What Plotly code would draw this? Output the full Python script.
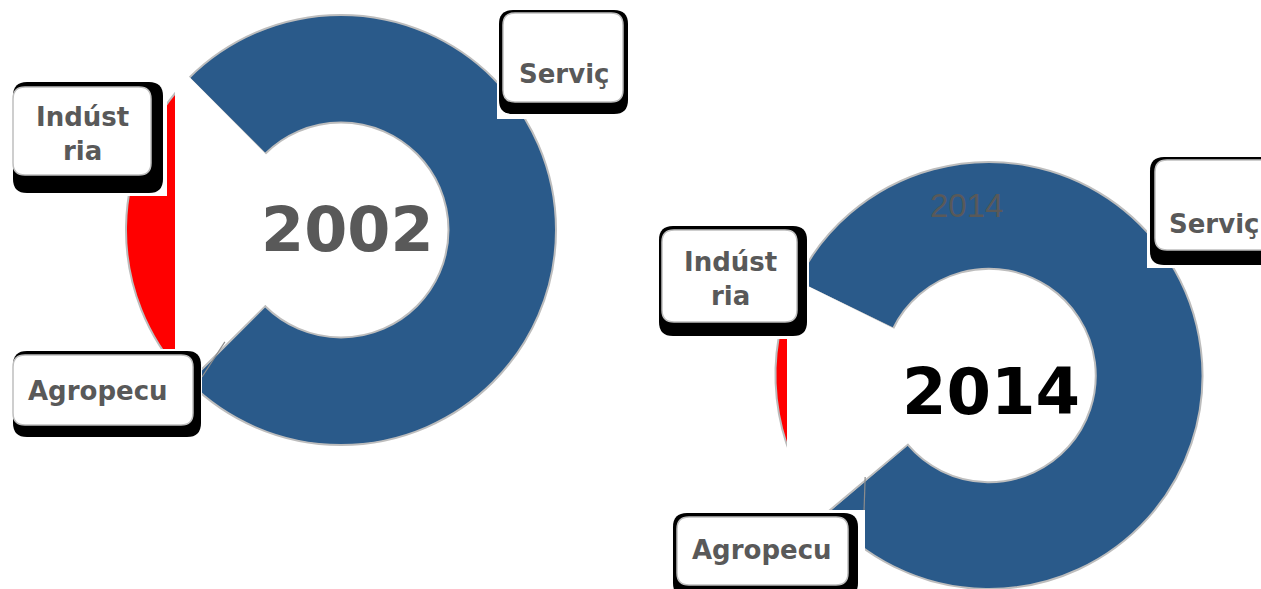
import math
import plotly.graph_objects as go

W, H = 1261, 589

# ---------------- data ----------------
categories = ["Serviços", "Agropecuária", "Indústria"]
years = ["2002", "2014"]
values_2002 = [75.0, 0.6, 24.4]
values_2014 = [81.6, 0.5, 17.9]
slice_colors = ["#2A5A8A", "#E6E6E6", "#FF0000"]
box_text = {"Serviços": "Serviç", "Agropecuária": "Agropecu", "Indústria": "Indúst<br>ria"}

# ---------------- layout (pixels) ----------------
charts = [
    dict(year="2002", values=values_2002, rotation=-45,
         domain_px=(126, 15, 556, 445), cut=175,
         center=dict(x=347, y=229, size=62, color="#595959"),
         top_text=None,
         leader_end=(202, 377),
         boxes={
             "Indústria": dict(box=(13, 87, 151, 175), shadow=(13, 82, 163, 193),
                               clip=(0, 78, 167, 196), text=(82, 134)),
             "Serviços": dict(box=(503, 13, 623, 102), shadow=(499, 10, 628, 114),
                              clip=(497, 4, 632, 119), text=(564, 74)),
             "Agropecuária": dict(box=(13, 355, 193, 425), shadow=(13, 351, 201, 437),
                                  clip=(0, 349, 202, 443), text=(98, 391)),
         }),
    dict(year="2014", values=values_2014, rotation=-64,
         domain_px=(775.5, 162, 1202.5, 589), cut=787,
         center=dict(x=991, y=392, size=64, color="#000000"),
         top_text=dict(x=966, y=205, size=33, color="#595959"),
         leader_end=(864, 512),
         boxes={
             "Indústria": dict(box=(662, 230, 797, 322), shadow=(659, 226, 807, 336),
                               clip=(655, 221, 809, 339), text=(730, 279)),
             "Serviços": dict(box=(1155, 160, 1290, 250), shadow=(1150, 157, 1295, 265),
                              clip=(1147, 152, 1261, 268), text=(1214, 224)),
             "Agropecuária": dict(box=(677, 517, 848, 585), shadow=(673, 513, 858, 597),
                                  clip=(665, 510, 865, 589), text=(762, 550)),
         }),
]


def P(x, y):
    return x / W, 1 - y / H


def path_from(points):
    s = ""
    for i, (x, y) in enumerate(points):
        px_, py_ = P(x, y)
        s += ("M" if i == 0 else "L") + f"{px_:.5f},{py_:.5f} "
    return s + "Z"


def rrect(x0, y0, x1, y1, r):
    def p(x, y):
        a, b = P(x, y)
        return f"{a:.5f},{b:.5f}"
    return (f"M{p(x0 + r, y0)} L{p(x1 - r, y0)} Q{p(x1, y0)} {p(x1, y0 + r)} "
            f"L{p(x1, y1 - r)} Q{p(x1, y1)} {p(x1 - r, y1)} L{p(x0 + r, y1)} "
            f"Q{p(x0, y1)} {p(x0, y1 - r)} L{p(x0, y0 + r)} Q{p(x0, y0)} {p(x0 + r, y0)} Z")


fig = go.Figure()
shapes = []
annotations = []
HOLE = 0.5

for ch in charts:
    x0, y0, x1, y1 = ch["domain_px"]
    fig.add_trace(go.Pie(
        labels=categories, values=ch["values"], hole=HOLE, sort=False,
        direction="clockwise", rotation=ch["rotation"],
        marker=dict(colors=slice_colors, line=dict(color="#BDBDBD", width=2)),
        textinfo="none", hoverinfo="label+percent", showlegend=False,
        domain=dict(x=[x0 / W, x1 / W], y=[1 - y1 / H, 1 - y0 / H]),
        name=ch["year"],
    ))

    # geometry, same as plotly's pie: angle clockwise from 12 o'clock
    cx, cy = (x0 + x1) / 2, (y0 + y1) / 2
    R = min(x1 - x0, y1 - y0) / 2
    total = sum(ch["values"])
    starts = []
    a = ch["rotation"]
    for v in ch["values"]:
        starts.append((a, a + 360 * v / total))
        a += 360 * v / total

    def pt(ang, r):
        t = math.radians(ang)
        return cx + r * math.sin(t), cy - r * math.cos(t)

    # white mask over the left part of the gap (reference look)
    a_start = starts[1][0] + 0.3
    a_end = starts[2][1] + 0.25
    pts = [(cx, cy)]
    n = 60
    for i in range(n + 1):
        ang = a_start + (a_end - a_start) * i / n
        x, y = pt(ang, R + 4)
        pts.append((max(x, ch["cut"]), y))
    shapes.append(dict(type="path", path=path_from(pts), xref="paper", yref="paper",
                       fillcolor="white", line=dict(width=0), layer="above"))

    # leader line for Agropecuária
    amid = (starts[1][0] + starts[1][1]) / 2
    lx, ly = pt(amid, R * (1 + HOLE) / 2)
    ex, ey = ch["leader_end"]
    ax_, ay_ = P(lx, ly)
    bx_, by_ = P(ex, ey)
    shapes.append(dict(type="line", x0=ax_, y0=ay_, x1=bx_, y1=by_, xref="paper", yref="paper",
                       line=dict(color="#8C8C8C", width=1.2), layer="above"))

    # label boxes
    for cat in categories:
        b = ch["boxes"][cat]
        cx0, cy0, cx1, cy1 = b["clip"]
        p0 = P(cx0, cy1)
        p1 = P(cx1, cy0)
        shapes.append(dict(type="rect", x0=p0[0], y0=p0[1], x1=p1[0], y1=p1[1],
                           xref="paper", yref="paper", fillcolor="white",
                           line=dict(width=0), layer="above"))
        shapes.append(dict(type="path", path=rrect(*b["shadow"], 14), xref="paper", yref="paper",
                           fillcolor="black", line=dict(width=0), layer="above"))
        shapes.append(dict(type="path", path=rrect(*b["box"], 12), xref="paper", yref="paper",
                           fillcolor="white", line=dict(color="#BFBFBF", width=1.5), layer="above"))
        tx, ty = P(*b["text"])
        annotations.append(dict(x=tx, y=ty, xref="paper", yref="paper", text=box_text[cat],
                                showarrow=False, xanchor="center", yanchor="middle",
                                font=dict(family="DejaVu Sans", size=26, color="#595959",
                                          weight="bold")))

    c = ch["center"]
    tx, ty = P(c["x"], c["y"])
    annotations.append(dict(x=tx, y=ty, xref="paper", yref="paper", text=ch["year"],
                            showarrow=False, xanchor="center", yanchor="middle",
                            font=dict(family="DejaVu Sans", size=c["size"], color=c["color"],
                                      weight="bold")))
    if ch["top_text"]:
        t = ch["top_text"]
        tx, ty = P(t["x"], t["y"])
        annotations.append(dict(x=tx, y=ty, xref="paper", yref="paper", text=ch["year"],
                                showarrow=False, xanchor="center", yanchor="middle",
                                font=dict(family="Liberation Sans", size=t["size"],
                                          color=t["color"])))

fig.update_layout(
    width=W, height=H, margin=dict(l=0, r=0, t=0, b=0),
    paper_bgcolor="white", plot_bgcolor="white",
    shapes=shapes, annotations=annotations,
)

fig.write_html("out.html", config={"displayModeBar": False},
               post_script="document.body.style.margin='0px';document.body.style.overflow='hidden';")
